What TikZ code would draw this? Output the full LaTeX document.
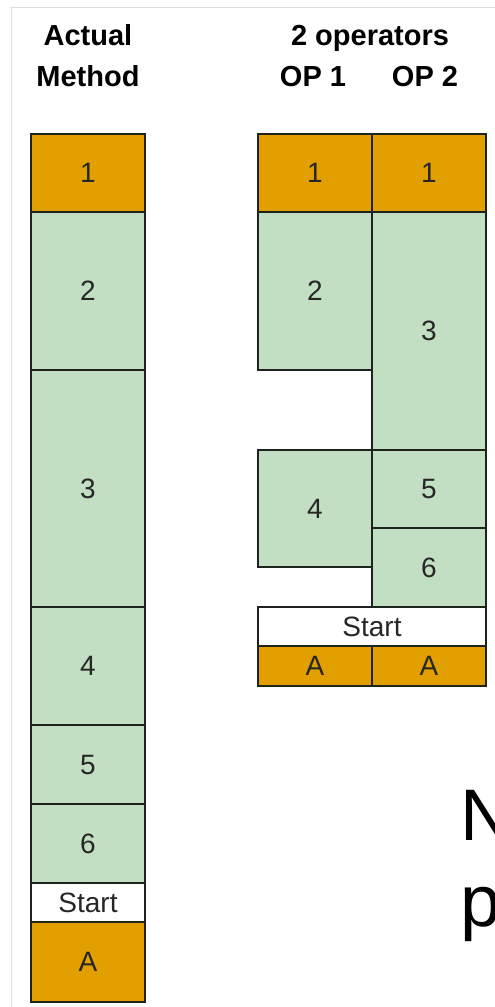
\documentclass[tikz,border=0pt]{standalone}
\usepackage{fontspec}
\setmainfont{Liberation Sans}
\definecolor{orng}{RGB}{226,160,0}
\definecolor{grn}{RGB}{195,223,195}
\definecolor{frame}{RGB}{222,222,222}
\definecolor{edge}{RGB}{30,35,30}
\newcommand\blkbox[7]{%
  \node[blk,fill=#6,minimum width={#4-#2},minimum height={#5-#3}] (#1) at ({(#2+#4)/2},{(#3+#5)/2}) {#7};}
\begin{document}
\begin{tikzpicture}[x=1pt,y=-1pt,
  blk/.style={draw=edge,line width=1.4pt,inner sep=0pt,font=\fontsize{28}{28}\selectfont,text=black!85},
  hdr/.style={font=\fontsize{29}{29}\selectfont\bfseries,anchor=base,inner sep=0pt},
  big/.style={font=\fontsize{73}{73}\selectfont,anchor=base west,inner sep=0pt}]
\useasboundingbox (0,0) rectangle (495,1007);
\clip (0,0) rectangle (495,1007);
\fill[white] (0,0) rectangle (495,1007);
\draw[frame,line width=1pt] (11,1007) -- (11,7) -- (495,7);
% headers
\node[hdr] (hA) at (88,45) {Actual};
\node[hdr] (hM) at (88,86) {Method};
\node[hdr] (hO) at (370,45) {2 operators};
\node[hdr] (hO1) at (313,86) {OP 1};
\node[hdr] (hO2) at (425,86) {OP 2};
% actual method column
\blkbox{a1}{31}{134}{145}{212}{orng}{1}
\blkbox{a2}{31}{212}{145}{370}{grn}{2}
\blkbox{a3}{31}{370}{145}{607}{grn}{3}
\blkbox{a4}{31}{607}{145}{725}{grn}{4}
\blkbox{a5}{31}{725}{145}{804}{grn}{5}
\blkbox{a6}{31}{804}{145}{883}{grn}{6}
\blkbox{aS}{31}{883}{145}{922}{white}{Start}
\blkbox{aA}{31}{922}{145}{1002}{orng}{A}
% two operators
\blkbox{b1}{258}{134}{372}{212}{orng}{1}
\blkbox{c1}{372}{134}{486}{212}{orng}{1}
\blkbox{b2}{258}{212}{372}{370}{grn}{2}
\blkbox{c3}{372}{212}{486}{450}{grn}{3}
\blkbox{b4}{258}{450}{372}{567}{grn}{4}
\blkbox{c5}{372}{450}{486}{528}{grn}{5}
\blkbox{c6}{372}{528}{486}{607}{grn}{6}
\blkbox{bS}{258}{607}{486}{646}{white}{Start}
\blkbox{bA}{258}{646}{372}{686}{orng}{A}
\blkbox{cA}{372}{646}{486}{686}{orng}{A}
% cut-off large text
\node[big] (tN) at (460,840) {N};
\node[big] (tp) at (460,926) {p};
\end{tikzpicture}
\end{document}
